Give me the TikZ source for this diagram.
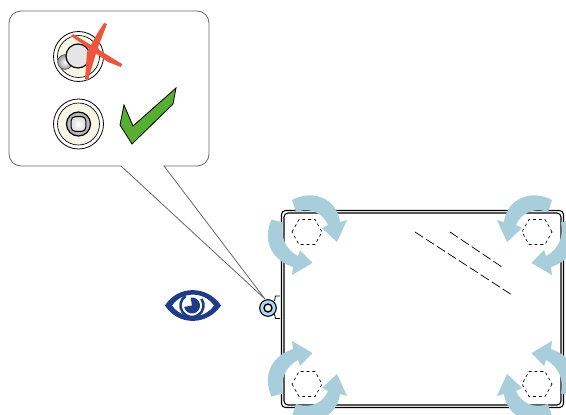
\documentclass[tikz,border=0pt]{standalone}
\usepackage{xcolor}
\definecolor{arrowblue}{RGB}{168,206,220}
\definecolor{eyeblue}{RGB}{30,60,135}
\definecolor{capblue}{RGB}{176,216,240}
\definecolor{cream}{RGB}{247,247,232}
\definecolor{crossred}{RGB}{238,85,65}
\definecolor{tickgreen}{RGB}{88,174,48}
\usepackage{tikz}
\usetikzlibrary{shapes.geometric,calc}
\tikzset{
    turnarrow/.style={fill=arrowblue, draw=none},
    hexhole/.style={draw, line width=0.5pt, dash pattern=on 2.2pt off 2.2pt},
    panelline/.style={draw, line width=0.8pt, rounded corners=3},
    hintline/.style={draw, line width=0.55pt, dash pattern=on 7.2pt off 2.6pt},
    ringline/.style={draw, line width=0.6pt},
    bubbleline/.style={draw=black!60, line width=0.6pt}
}
% one bolt with its two turning arrows, drawn around the hexagon centre
\newcommand{\boltcorner}[3]{
    \begin{scope}[shift={(#1)}, xscale=#2, yscale=#3]
        \fill[turnarrow] (-15,-32) .. controls (5,-43) and (30,-34) .. (33,-10)
            -- (40,-12) -- (30,10) -- (15,-4) -- (21,-7)
            .. controls (16,-19) and (3,-25) .. (-11,-20) -- cycle;
        \fill[turnarrow] (-35.5,-12.5) .. controls (-44,6) and (-38,27) .. (-14,35)
            -- (-15,43) -- (5.5,31) -- (-7,18) -- (-9,24)
            .. controls (-21,18) and (-27,5) .. (-24,-9.5) -- cycle;
        \draw[hexhole] (-15,0) -- (-8,-12.5) -- (8,-12.5) -- (15,0) -- (8,12.5) -- (-8,12.5) -- cycle;
    \end{scope}
}
\begin{document}
\begin{tikzpicture}[x=0.75pt, y=-0.75pt]
    \useasboundingbox (0,0) rectangle (566,414);
    \clip (0,0) rectangle (566,414);

    % Panel outline
    \draw[panelline] (281.5,210.5) rectangle (563.5,407.5);
    \draw[panelline] (284,213) rectangle (561,405);

    % Corner bolts
    \boltcorner{307,232}{1}{1}
    \boltcorner{537,232}{-1}{1}
    \boltcorner{307,384}{1}{-1}
    \boltcorner{537,384}{-1}{-1}

    % Hint lines on the glass
    \draw[hintline] (415,232) -- (512,295);
    \draw[hintline] (450,232) -- (502,267);

    % Callout
    \coordinate (capapex) at (265,299);
    \draw[bubbleline, fill=white] (100,11) [rounded corners=9pt] -- (209,11) -- (209,166)
        [sharp corners] -- (164,166) -- (capapex) -- (121,166)
        [rounded corners=9pt] -- (9,166) -- (9,11) -- cycle;

    % Cap on the panel edge
    \draw[line width=0.6pt] (280,296) -- (275.5,296) -- (274.5,301);
    \draw[line width=0.6pt] (274.5,314) -- (275.5,318.5) -- (280,318.5);
    \node[circle, ringline, line width=0.8pt, fill=capblue, minimum size=12.5pt, inner sep=0pt] (cap) at (268,308) {};
    \node[circle, draw, line width=1pt, fill=black!8, minimum size=6pt, inner sep=0pt] (capcore) at (268,308) {};

    % Wrong seating
    \node[circle, ringline, fill=white, minimum size=37.5pt, inner sep=0pt] (wrongouter) at (78.5,56.5) {};
    \node[circle, ringline, line width=0.5pt, fill=cream, minimum size=31.5pt, inner sep=0pt] (wronginner) at (78.5,56.5) {};
    \node[circle, draw=black!70, line width=0.5pt, inner color=white, outer color=black!40, minimum size=11pt, inner sep=0pt] (wrongball) at (65,62) {};
    \node[circle, draw, line width=0.9pt, fill=black!10, minimum size=18pt, inner sep=0pt] (wrongcore) at (78,56) {};
    \fill[crossred] (71,36) -- (73,34) -- (122,64) -- (121,67) -- (108,62) -- cycle;
    \fill[crossred] (104,23) -- (107,24) -- (97,50) -- (88,80) -- (85,79) -- (87,52) -- (97,34) -- cycle;

    % Right seating
    \node[circle, ringline, fill=white, minimum size=37.5pt, inner sep=0pt] (rightouter) at (78.5,124) {};
    \node[circle, ringline, line width=0.5pt, fill=cream, minimum size=31.5pt, inner sep=0pt] (rightinner) at (78.5,124) {};
    \node[circle, draw, line width=0.9pt, fill=black!28, minimum size=18pt, inner sep=0pt] (rightcore) at (78.5,124) {};
    \node[rectangle, rounded corners=3, draw, line width=0.8pt, fill=black!10, minimum size=11pt, inner sep=0pt] (rightsquare) at (78.5,124) {};
    \node[circle, draw=none, inner color=white, outer color=black!12, minimum size=9pt, inner sep=0pt] (rightball) at (78.5,124) {};
    \draw[line width=0.6pt, fill=tickgreen] (124,105) -- (133,126) -- (176,88) -- (173,104) -- (132,144) -- (120,125) -- cycle;

    % Eye
    \fill[eyeblue, even odd rule] (165,305.5) .. controls (178,285) and (207,285) .. (221,305.5)
        .. controls (207,326) and (178,326) .. (165,305.5) -- cycle
        (172,305.5) .. controls (182,291) and (204,291) .. (214,305.5)
        .. controls (204,320) and (182,320) .. (172,305.5) -- cycle;
    \begin{scope}[shift={(192,305.5)}, yscale=-1]
        \draw[eyeblue, line width=1.9pt] (125:11.5) arc[start angle=125, end angle=395, radius=11.5];
        \fill[eyeblue] (0,0) -- (100:8) arc[start angle=100, end angle=-170, radius=8] -- cycle;
    \end{scope}
\end{tikzpicture}
\end{document}
